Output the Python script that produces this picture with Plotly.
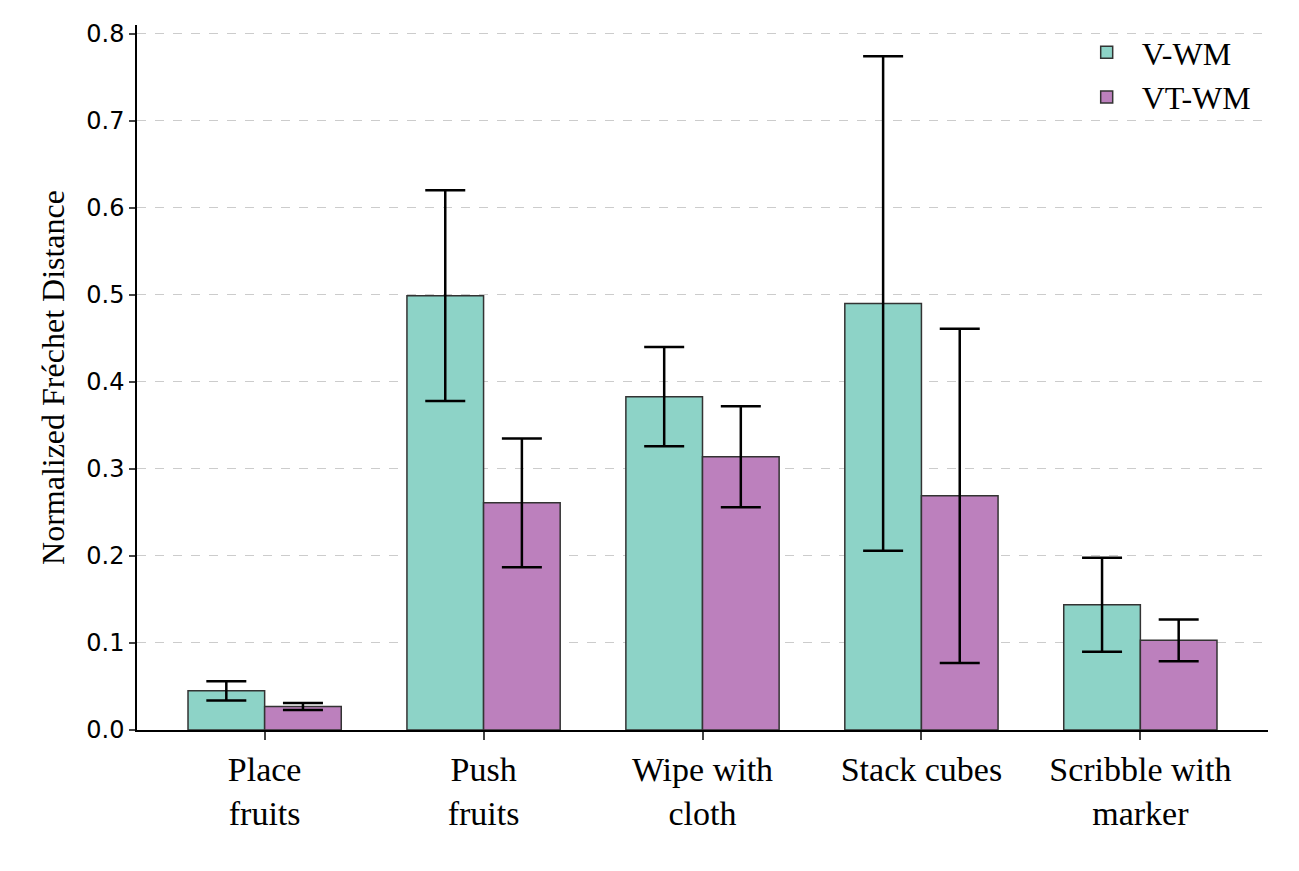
import plotly.graph_objs as go

tasks = ["Place<br>fruits", "Push<br>fruits", "Wipe with<br>cloth", "Stack cubes", "Scribble with<br>marker"]
v_wm = [0.045, 0.499, 0.383, 0.490, 0.144]
v_wm_err = [0.011, 0.121, 0.057, 0.284, 0.054]
vt_wm = [0.027, 0.261, 0.314, 0.269, 0.103]
vt_wm_err = [0.004, 0.074, 0.058, 0.192, 0.024]
yticks = [0.0, 0.1, 0.2, 0.3, 0.4, 0.5, 0.6, 0.7, 0.8]

serif = "Liberation Serif, DejaVu Serif, serif"

fig = go.Figure()
fig.add_trace(go.Bar(x=tasks, y=v_wm, name="V-WM",
                     marker=dict(color="#8dd3c7", line=dict(color="#333333", width=1.5)),
                     error_y=dict(type="data", array=v_wm_err, color="black", thickness=2.5, width=20)))
fig.add_trace(go.Bar(x=tasks, y=vt_wm, name="VT-WM",
                     marker=dict(color="#bc80bd", line=dict(color="#333333", width=1.5)),
                     error_y=dict(type="data", array=vt_wm_err, color="black", thickness=2.5, width=20)))

fig.update_layout(
    width=1299, height=871,
    barmode="group", bargap=0.3, bargroupgap=0,
    plot_bgcolor="white", paper_bgcolor="white",
    margin=dict(l=129, r=39, t=14, b=149),
    font=dict(family="DejaVu Sans", size=24, color="black"),
    legend=dict(x=0.99, y=1.0, xanchor="right", yanchor="top", itemwidth=60,
                font=dict(family=serif, size=32), bgcolor="rgba(0,0,0,0)"),
)
fig.update_xaxes(range=[-0.583, 4.583], showline=True, linecolor="black", linewidth=1.5,
                 ticks="outside", ticklen=8, tickwidth=1.5,
                 tickfont=dict(family=serif, size=34))
fig.update_yaxes(range=[0, 0.81], tickvals=yticks, tickformat=".1f",
                 showline=True, linecolor="black", linewidth=1.5,
                 ticks="outside", ticklen=6, tickwidth=1.5,
                 showgrid=True, gridcolor="#cccccc", griddash="dash", gridwidth=1,
                 zeroline=False,
                 title=dict(text="Normalized Fréchet Distance", font=dict(family=serif, size=32), standoff=12))

fig.write_html("out.html")
